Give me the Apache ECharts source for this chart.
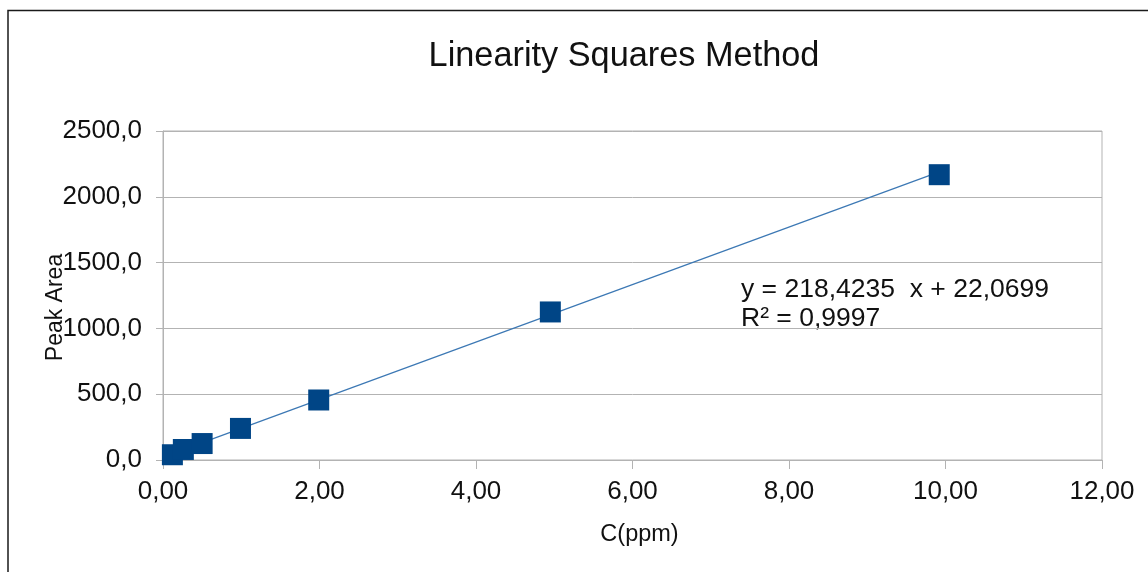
<!DOCTYPE html>
<html>
<head>
<meta charset="utf-8">
<script src="https://cdn.jsdelivr.net/npm/echarts@6/dist/echarts.min.js"></script>
<style>
  html, body { margin: 0; padding: 0; background: #fff; }
  #chart { width: 1148px; height: 572px; }
</style>
</head>
<body>
<div id="chart"></div>
<script>
// concentrations (ppm) and peak areas
let conc = [0.12, 0.26, 0.5, 0.99, 1.99, 4.95, 9.92];
let area = [40, 80, 125, 240, 456, 1125, 2168];
// trend line endpoints (start / end of the drawn regression line)
let trendX = [0.12, 9.92];
let trendY = [48, 2189];
let equationText = ['y = 218,4235  x + 22,0699', 'R² = 0,9997'];

let points = conc.map((c, i) => [c, area[i]]);
let trend = trendX.map((x, i) => [x, trendY[i]]);

let font = 'Liberation Sans, Arial, sans-serif';
let myChart = echarts.init(document.getElementById('chart'));
myChart.setOption({
  animation: false,
  title: {
    text: 'Linearity Squares Method',
    left: 619,
    textAlign: 'center',
    top: 35,
    textStyle: { fontFamily: font, fontSize: 34.3, fontWeight: 'normal', color: '#111' }
  },
  grid: {
    left: 163, right: 46, top: 131, bottom: 112,
    show: true, borderColor: '#b3b3b3', borderWidth: 1
  },
  xAxis: {
    type: 'value',
    min: 0, max: 12, interval: 2,
    name: 'C(ppm)',
    nameLocation: 'middle',
    nameGap: 63,
    nameMoveOverlap: false,
    nameTextStyle: { fontFamily: font, fontSize: 23.5, color: '#111', padding: [0, 0, 0, 14] },
    axisLine: { show: true, lineStyle: { color: '#b3b3b3' } },
    axisTick: { show: true, length: 9, lineStyle: { color: '#b3b3b3' } },
    splitLine: { show: false },
    axisLabel: {
      fontFamily: font, fontSize: 26, color: '#111', margin: 19,
      formatter: v => v.toFixed(2).replace('.', ',')
    }
  },
  yAxis: {
    type: 'value',
    min: 0, max: 2500, interval: 500,
    name: 'Peak Area',
    nameLocation: 'middle',
    nameGap: 96,
    nameMoveOverlap: false,
    nameTextStyle: { fontFamily: font, fontSize: 23, color: '#111', padding: [0, 24, 0, 0] },
    axisLine: { show: true, lineStyle: { color: '#b3b3b3' } },
    axisTick: { show: true, length: 7, lineStyle: { color: '#b3b3b3' } },
    splitLine: { show: true, lineStyle: { color: '#b3b3b3', width: 1 } },
    axisLabel: {
      fontFamily: font, fontSize: 26, color: '#111', margin: 21,
      formatter: v => v.toFixed(1).replace('.', ',')
    }
  },
  series: [
    {
      type: 'line',
      data: trend,
      symbol: 'none',
      lineStyle: { color: '#3c78b4', width: 1.2 },
      z: 2
    },
    {
      type: 'scatter',
      data: points,
      symbol: 'rect',
      symbolSize: 21,
      itemStyle: { color: '#004586', opacity: 1 },
      z: 3
    }
  ],
  graphic: [
    {
      type: 'rect',
      shape: { x: 8, y: 10.5, width: 1300, height: 700 },
      style: { fill: 'none', stroke: '#1a1a1a', lineWidth: 1.5 },
      silent: true
    },
    {
      type: 'text',
      x: 741, y: 290,
      style: { text: equationText[0], fontFamily: font, fontSize: 26.5, fill: '#111', verticalAlign: 'middle' }
    },
    {
      type: 'text',
      x: 741, y: 319,
      style: { text: equationText[1], fontFamily: font, fontSize: 26.5, fill: '#111', verticalAlign: 'middle' }
    }
  ]
});
</script>
</body>
</html>
